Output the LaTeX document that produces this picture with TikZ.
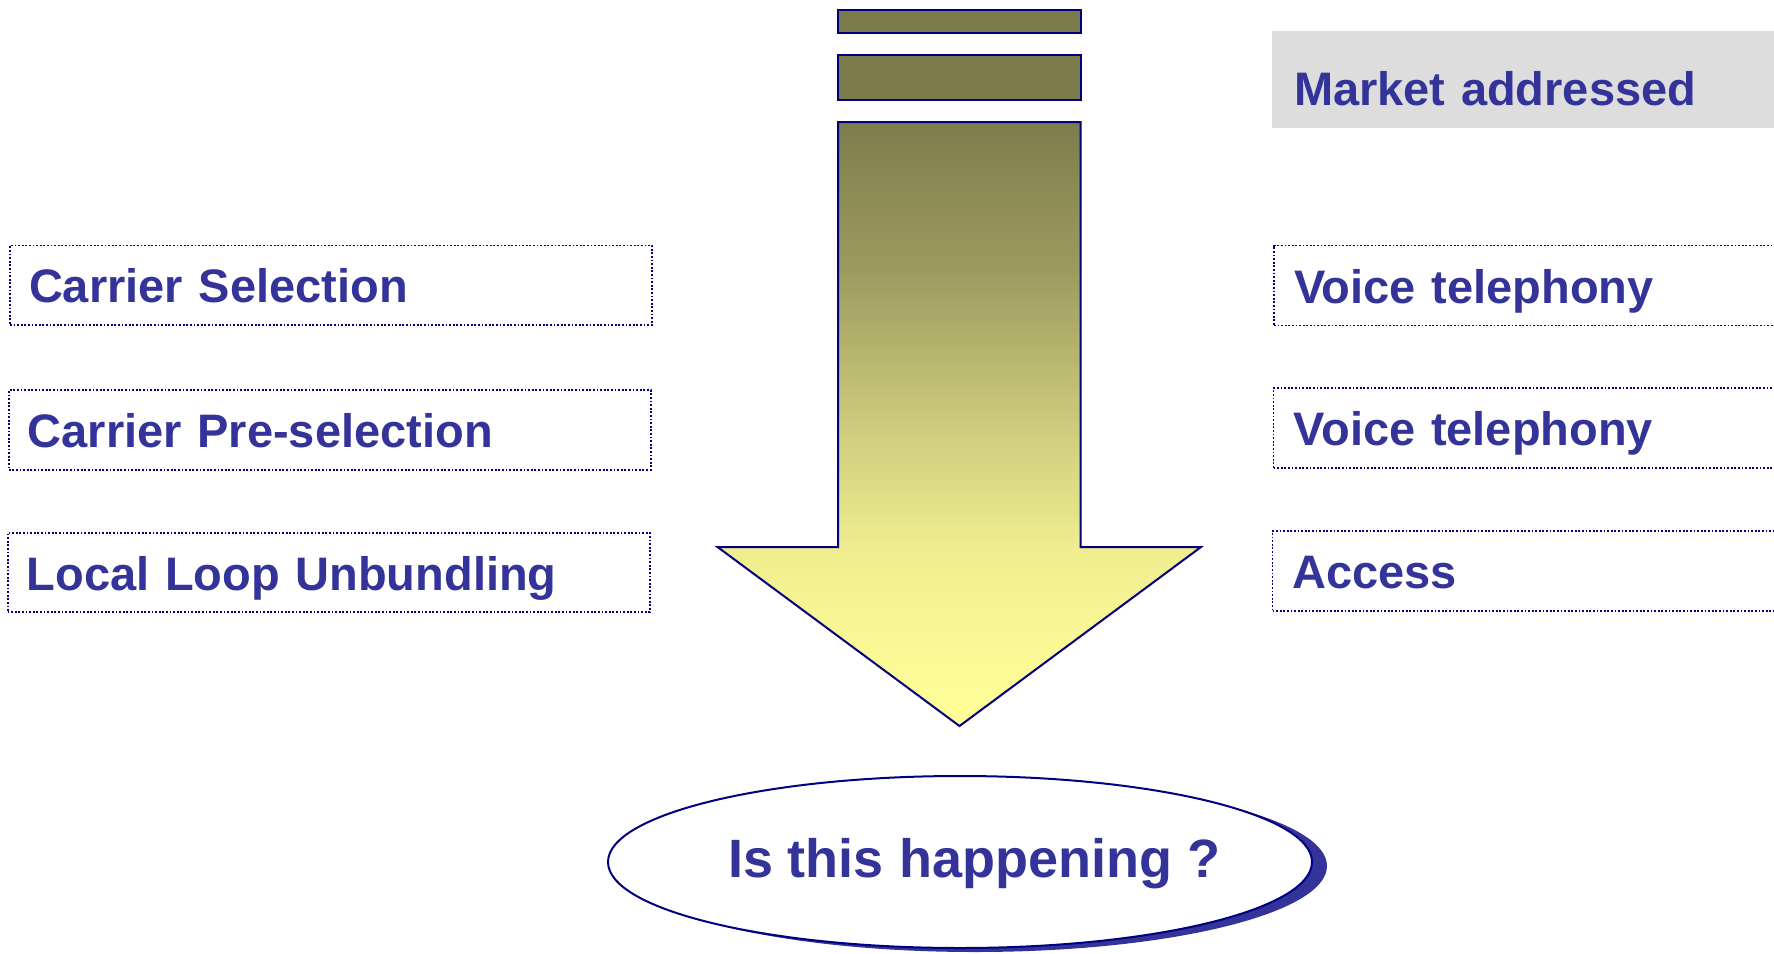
\documentclass[tikz,border=0pt]{standalone}
\usepackage{fontspec}
\setmainfont{Liberation Sans}
\usetikzlibrary{shapes.geometric}
\definecolor{navyc}{RGB}{0,0,128}
\definecolor{txtc}{RGB}{51,51,153}
\definecolor{barc}{RGB}{122,122,74}
\definecolor{gA}{RGB}{125,125,76}
\definecolor{gB}{RGB}{156,156,96}
\definecolor{gC}{RGB}{204,203,123}
\definecolor{gD}{RGB}{238,236,142}
\definecolor{gE}{RGB}{249,247,149}
\definecolor{gF}{RGB}{255,255,153}
\definecolor{grayc}{RGB}{221,221,221}
\pgfdeclareverticalshading{arrowshade}{100bp}{color(0bp)=(gF); color(25bp)=(gF); color(32.5bp)=(gE); color(40bp)=(gD); color(50bp)=(gC); color(62.5bp)=(gB); color(75bp)=(gA); color(100bp)=(gA)}
\newcommand{\lblfont}{\fontsize{47}{56}\selectfont\bfseries}
\tikzset{
  dotbox/.style={draw=navyc, line width=1.8pt, dash pattern=on 1.8pt off 1.8pt,
    align=left, text height=35pt, text depth=0pt, font=\lblfont, text=txtc},
  leftbox/.style={dotbox, text width=604pt, inner xsep=19pt, inner ysep=0pt, minimum height=79.5pt},
  rightbox/.style={dotbox, text width=486pt, inner xsep=20pt, inner ysep=0pt, minimum height=80pt},
  barbox/.style={draw=navyc, line width=2pt, fill=barc},
}
\begin{document}
\begin{tikzpicture}[x=1pt,y=-1pt]
\useasboundingbox (0,0) rectangle (1774,953);
\clip (0,0) rectangle (1774,953);
% top bars
\path[barbox] (838,10) rectangle (1080.5,32.5);
\path[barbox] (838,54.5) rectangle (1080.5,100);
% arrow
\coordinate (a1) at (838,122);
\coordinate (a2) at (1080.5,122);
\coordinate (a3) at (1080.5,547);
\coordinate (a4) at (1201,547);
\coordinate (tip) at (959.5,726);
\coordinate (a6) at (717.5,547);
\coordinate (a7) at (838,547);
\draw[navyc, line width=2pt, line join=miter, shading=arrowshade]
  (a1) -- (a2) -- (a3) -- (a4) -- (tip) -- (a6) -- (a7) -- cycle;
% market addressed
\node[fill=grayc, text width=484pt, inner xsep=22pt, inner ysep=0pt, minimum height=97pt,
  align=left, text height=51pt, text depth=0pt, font=\lblfont, text=txtc] (mkt) at (1536,79.5) {Market addressed};
% left boxes
\node[leftbox] (cs) at (331,285.3) {Carrier Selection};
\node[leftbox] (cps) at (329.8,429.9) {Carrier Pre-selection};
\node[leftbox] (llu) at (328.6,572.5) {Local Loop Unbundling};
% right boxes
\node[rightbox, minimum width=526pt] (vt1) at (1537,285.5) {Voice telephony};
\node[rightbox, minimum width=526pt] (vt2) at (1536.5,428.3) {Voice telephony};
\node[rightbox, minimum width=526pt] (acc) at (1535.5,571) {Access};
% ellipse with shadow
\fill[txtc] (975,866) ellipse [x radius=352, y radius=86];
\node[ellipse, draw=navyc, line width=2pt, fill=white, minimum width=704pt, minimum height=172pt, inner sep=0pt] (q) at (960,862) {};
\node[anchor=base, font=\fontsize{54}{64}\selectfont\bfseries, text=txtc, inner sep=0pt] (qt) at (974,877) {Is this happening ?};
\end{tikzpicture}
\end{document}
